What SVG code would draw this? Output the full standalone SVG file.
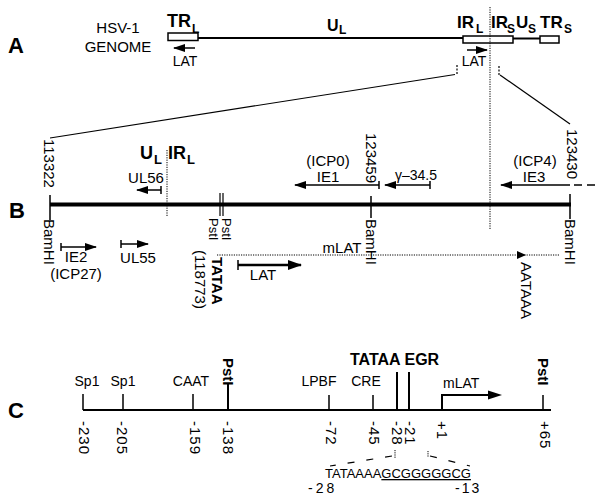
<svg xmlns="http://www.w3.org/2000/svg" width="600" height="495" viewBox="0 0 600 495">
<defs>
<style>
text{font-family:"Liberation Sans",Arial,Helvetica,sans-serif;fill:#000;}
.pl{font-size:22px;font-weight:bold;}
.t15{font-size:15px;}
.t14{font-size:14px;}
.t13{font-size:13px;}
.big{font-size:17px;font-weight:bold;}
.sub{font-size:12px;font-weight:bold;}
.bold15{font-size:15px;font-weight:bold;}
.mid{text-anchor:middle;}
.rot{dominant-baseline:central;}
.num{font-size:15px;letter-spacing:1px;}
.ln{stroke:#000;fill:none;stroke-width:1.5;}
.thin{stroke:#000;fill:none;stroke-width:1.2;}
.dot{stroke:#000;fill:none;stroke-width:1;stroke-dasharray:1.2 1.2;}
.box{stroke:#000;fill:#fff;stroke-width:1.5;}
.arr{stroke:#000;fill:none;stroke-width:1.5;marker-end:url(#ah);}
</style>
<marker id="ah" markerUnits="userSpaceOnUse" markerWidth="12" markerHeight="8" refX="11" refY="4" orient="auto">
<path d="M0,0 L12,4 L0,8 z" fill="#000"/>
</marker>
<marker id="ahb" markerUnits="userSpaceOnUse" markerWidth="14" markerHeight="10" refX="13" refY="5" orient="auto">
<path d="M0,0 L14,5 L0,10 z" fill="#000"/>
</marker>
</defs>

<g id="panelA">
<text class="pl" x="8" y="53">A</text>
<text class="t15 mid" x="118" y="33">HSV-1</text>
<text class="t15 mid" x="118" y="52">GENOME</text>
<text class="big" x="167" y="27" style="font-size:18px">TR</text>
<text class="sub" x="192" y="33">L</text>
<text class="big" x="327" y="31" style="font-size:16px">U</text>
<text class="sub" x="339" y="34">L</text>
<text class="big" x="457" y="28">IR</text>
<text class="sub" x="476" y="33">L</text>
<text class="big" x="491" y="28">IR</text>
<text class="sub" x="507" y="33">S</text>
<text class="big" x="516" y="28">U</text>
<text class="sub" x="528" y="33">S</text>
<text class="big" x="540" y="28">TR</text>
<text class="sub" x="564" y="33">S</text>
<g id="genome">
<line x1="198" y1="38" x2="463" y2="38" stroke="#000" stroke-width="2"/>
<line x1="513" y1="38.5" x2="540" y2="38.5" stroke="#000" stroke-width="2"/>
<rect class="box" x="168" y="33" width="30" height="7.5"/>
<rect class="box" x="463" y="36" width="50" height="7"/>
<rect class="box" x="540" y="36" width="19" height="7"/>
</g>
<line class="arr" x1="195" y1="48" x2="174" y2="48"/>
<text class="t14 mid" x="185" y="66">LAT</text>
<line class="arr" x1="467" y1="50" x2="487" y2="50"/>
<text class="t14 mid" x="474" y="66">LAT</text>
<line class="dot" x1="490" y1="7" x2="490" y2="230"/>
<g id="zoomlines">
<path d="M457,65 V74" stroke="#000" stroke-width="1.2" stroke-dasharray="2 1.5" fill="none"/>
<line class="thin" x1="455" y1="74.5" x2="50" y2="138"/>
<path d="M499,66 V75" stroke="#000" stroke-width="1.2" stroke-dasharray="2 1.5" fill="none"/>
<line class="thin" x1="500" y1="75" x2="570" y2="124"/>
</g>
</g>

<g id="panelB">
<text class="pl" x="9" y="218">B</text>
<line x1="50" y1="204.5" x2="571" y2="204.5" stroke="#000" stroke-width="4"/>
<line class="ln" x1="50" y1="195" x2="50" y2="220"/>
<line class="ln" x1="371" y1="196" x2="371" y2="218"/>
<line class="ln" x1="570" y1="194" x2="570" y2="219"/>
<line class="thin" x1="220" y1="193" x2="220" y2="216"/>
<line class="thin" x1="223" y1="193" x2="223" y2="216"/>
<line class="dot" x1="167" y1="150" x2="167" y2="217"/>
<text class="t15 rot" transform="translate(49,139) rotate(90)">113322</text>
<text class="t15 rot" transform="translate(371.5,133) rotate(90)">123459</text>
<text class="t15 rot" transform="translate(572,129) rotate(90)">123430</text>
<text class="t15 rot" transform="translate(49.5,219) rotate(90)">BamHI</text>
<text class="t15 rot" transform="translate(371,219) rotate(90)">BamHI</text>
<text class="t15 rot" transform="translate(570.5,219) rotate(90)">BamHI</text>
<text class="t13 rot" transform="translate(213,218) rotate(90)">PstI</text>
<text class="t13 rot" transform="translate(226,218) rotate(90)">PstI</text>
<text class="bold15 rot" transform="translate(217,257) rotate(90)">TATAA</text>
<text class="t15 rot" transform="translate(200,250) rotate(90)">(118773)</text>
<text class="big" x="140" y="159" style="font-size:18px">U</text>
<text class="sub" x="154" y="164" style="font-size:13px">L</text>
<text class="big" x="168" y="159" style="font-size:18px">IR</text>
<text class="sub" x="187" y="164" style="font-size:13px">L</text>
<text class="t15 mid" x="146" y="183">UL56</text>
<line class="ln" x1="161" y1="186" x2="161" y2="194"/>
<line class="arr" x1="161" y1="190" x2="137" y2="190"/>
<text class="t15 mid" x="328" y="166">(ICP0)</text>
<text class="t15 mid" x="328" y="182">IE1</text>
<line class="ln" x1="379" y1="181" x2="379" y2="189"/>
<line class="arr" x1="379" y1="185" x2="295" y2="185"/>
<text class="t14 mid" x="416" y="180">γ–34.5</text>
<line class="ln" x1="430" y1="181" x2="430" y2="189"/>
<line class="arr" x1="430" y1="185" x2="385" y2="185"/>
<text class="t15 mid" x="535" y="166">(ICP4)</text>
<text class="t15 mid" x="534" y="182">IE3</text>
<line class="arr" x1="570" y1="185" x2="501" y2="185"/>
<line x1="574" y1="185" x2="600" y2="185" stroke="#000" stroke-width="1.5" stroke-dasharray="8 5"/>
<line class="ln" x1="61" y1="243" x2="61" y2="251"/>
<line class="arr" x1="61" y1="247" x2="96" y2="247"/>
<text class="t15 mid" x="76" y="262">IE2</text>
<text class="t15 mid" x="76" y="279">(ICP27)</text>
<line class="ln" x1="121" y1="240" x2="121" y2="248"/>
<line class="arr" x1="121" y1="244" x2="148" y2="244"/>
<text class="t15 mid" x="138" y="263">UL55</text>
<line class="dot" x1="217" y1="255" x2="560" y2="255"/>
<path d="M517,251 L526,255 L517,259 z" fill="#000"/>
<text class="t15 mid" x="342" y="253">mLAT</text>
<text class="t15 rot" transform="translate(526,262) rotate(90)">AATAAA</text>
<line class="ln" x1="238" y1="260" x2="238" y2="270"/>
<line x1="238" y1="265" x2="301" y2="265" stroke="#000" stroke-width="2.5" marker-end="url(#ahb)"/>
<text class="t15 mid" x="263" y="280">LAT</text>
</g>

<g id="panelC">
<text class="pl" x="8" y="418">C</text>
<line x1="83" y1="410" x2="551" y2="410" stroke="#000" stroke-width="2"/>
<g id="sites">
<line class="ln" x1="83" y1="394" x2="83" y2="410"/>
<line class="ln" x1="123" y1="394" x2="123" y2="410"/>
<line class="ln" x1="193" y1="394" x2="193" y2="410"/>
<line x1="228" y1="383" x2="228" y2="410" stroke="#000" stroke-width="2"/>
<line class="ln" x1="329" y1="395" x2="329" y2="410"/>
<line class="ln" x1="373" y1="395" x2="373" y2="410"/>
<line x1="397" y1="372" x2="397" y2="410" stroke="#000" stroke-width="2"/>
<line x1="409" y1="372" x2="409" y2="410" stroke="#000" stroke-width="2"/>
<line class="ln" x1="543" y1="395" x2="543" y2="410"/>
</g>
<text class="t14 mid" x="87" y="386">Sp1</text>
<text class="t14 mid" x="123" y="386">Sp1</text>
<text class="t14 mid" x="191" y="386">CAAT</text>
<text class="t14 mid" x="319" y="386">LPBF</text>
<text class="t14 mid" x="366" y="386">CRE</text>
<text class="bold15" x="350" y="365" style="font-size:16px">TATAA EGR</text>
<text class="t14" x="443" y="388">mLAT</text>
<text class="bold15 rot" transform="translate(228,358) rotate(90)">PstI</text>
<text class="bold15 rot" transform="translate(543,358) rotate(90)">PstI</text>
<path d="M442,410 V395 H490" stroke="#000" stroke-width="2" fill="none"/>
<path d="M488,390.5 L502,395 L488,399.5 z" fill="#000"/>
<g id="positions">
<text class="num rot" transform="translate(84,421) rotate(90)">-230</text>
<text class="num rot" transform="translate(122.5,421) rotate(90)">-205</text>
<text class="num rot" transform="translate(195,421) rotate(90)">-159</text>
<text class="num rot" transform="translate(228,421) rotate(90)">-138</text>
<text class="num rot" transform="translate(331,421) rotate(90)">-72</text>
<text class="num rot" transform="translate(374,421) rotate(90)">-45</text>
<text class="num rot" transform="translate(397,421) rotate(90)">-28</text>
<text class="num rot" transform="translate(410,421) rotate(90)">-21</text>
<text class="num rot" transform="translate(442.5,421) rotate(90)">+1</text>
<text class="num rot" transform="translate(545,421) rotate(90)">+65</text>
</g>
<path d="M395,450 V458 M428,451 V457" stroke="#000" stroke-width="1" stroke-dasharray="1.2 1" fill="none"/>
<line x1="392" y1="456" x2="330" y2="466" stroke="#000" stroke-width="1.2" stroke-dasharray="7 12"/>
<line x1="430" y1="456" x2="470" y2="466" stroke="#000" stroke-width="1.2" stroke-dasharray="7 12"/>
<text class="t13" x="325" y="478">TATAAAA<tspan text-decoration="underline">GCGGGGGCG</tspan></text>
<text class="t14" x="308" y="493" letter-spacing="3">-28</text>
<text class="t14" x="455" y="493" letter-spacing="2">-13</text>
</g>
</svg>
